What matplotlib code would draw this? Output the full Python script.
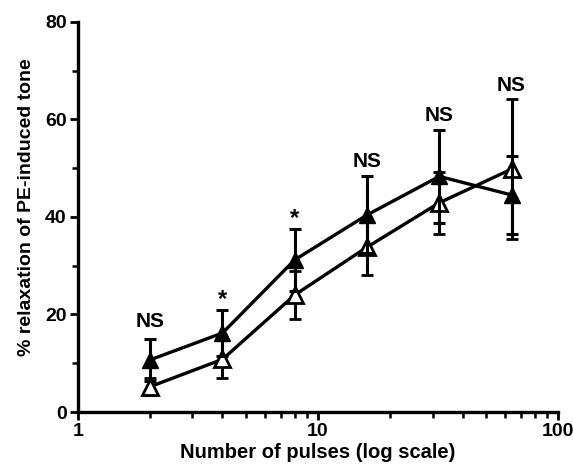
import matplotlib.pyplot as plt
import numpy as np

plt.rcParams['font.family'] = ['Liberation Sans', 'DejaVu Sans']
plt.rcParams['font.weight'] = 'bold'

# number of pulses
pulsos = [2, 4, 8, 16, 32, 64]

# filled triangles
rel_llenos = [10.7, 16.2, 31.2, 40.4, 48.3, 44.5]
err_llenos = [4.3, 4.7, 6.3, 7.9, 9.5, 8.0]

# open triangles
rel_vacios = [5.2, 10.8, 24.0, 33.8, 42.9, 49.8]
err_vacios = [1.8, 3.9, 4.9, 5.8, 6.4, 14.3]

# significance labels
etiquetas = ['NS', '*', '*', 'NS', 'NS', 'NS']
y_etiquetas = [18.5, 23.0, 39.6, 51.3, 60.7, 67.0]

fig = plt.figure(figsize=(5.73, 4.69), dpi=100)
ax = fig.add_axes([0.136, 0.1215, 0.838, 0.832])

ax.errorbar(pulsos, rel_vacios, yerr=err_vacios, color='black', lw=2.4,
            marker='^', ms=11, mfc='white', mec='black', mew=2,
            capsize=4.5, capthick=2.2, elinewidth=2.2, zorder=3)
ax.errorbar(pulsos, rel_llenos, yerr=err_llenos, color='black', lw=2.4,
            marker='^', ms=11, mfc='black', mec='black',
            capsize=4.5, capthick=2.2, elinewidth=2.2, zorder=4)

for x, y, t in zip(pulsos, y_etiquetas, etiquetas):
    tam = 17 if t == '*' else 15
    ax.text(x, y, t, ha='center', va='center', fontsize=tam, fontweight='bold')

ax.set_xscale('log')
ax.set_xlim(1, 100)
ax.set_ylim(0, 80)
ax.set_yticks([0, 20, 40, 60, 80])
ax.set_yticks([10, 30, 50, 70], minor=True)
ax.set_xticks([1, 10, 100])
ax.set_xticklabels(['1', '10', '100'])

for s in ['top', 'right']:
    ax.spines[s].set_visible(False)
for s in ['left', 'bottom']:
    ax.spines[s].set_linewidth(2.4)

ax.tick_params(which='major', length=6, width=2, labelsize=14, pad=2, direction='out')
ax.tick_params(which='minor', length=4, width=1.8, direction='out')
ax.tick_params(axis='x', which='major', pad=2)

ax.set_xlabel('Number of pulses (log scale)', fontsize=14.5, fontweight='bold', labelpad=2)
ax.set_ylabel('% relaxation of PE-induced tone', fontsize=14, fontweight='bold')
ax.yaxis.set_label_coords(-0.09, 0.526)

fig.savefig('out.png', dpi=100)
